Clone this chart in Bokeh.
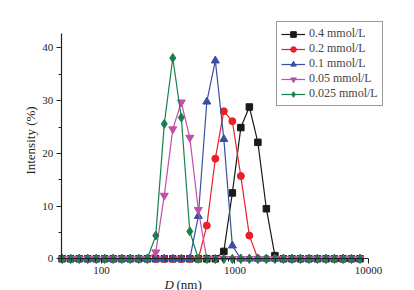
import math
from bokeh.plotting import figure
from bokeh.models import Range1d, Legend, LegendItem, FixedTicker, NumeralTickFormatter, Label
from bokeh.embed import file_html
from bokeh.resources import INLINE

# Malvern size bins (nm) from ~50 to ~8635
sizes = [50.75, 58.77, 68.06, 78.82, 91.28, 105.7, 122.4, 141.8, 164.2, 190.1,
         220.2, 255.0, 295.3, 342.0, 396.1, 458.7, 531.2, 615.1, 712.4, 825.0,
         955.4, 1106, 1281, 1484, 1718, 1990, 2305, 2669, 3091, 3580,
         4145, 4801, 5560, 6439, 7456, 8635]

def series(peaks):
    return [peaks.get(s, 0.0) for s in sizes]

c04 = series({825.0: 1.4, 955.4: 12.5, 1106: 24.9, 1281: 28.8, 1484: 22.1, 1718: 9.5, 1990: 0.6})
c02 = series({615.1: 6.3, 712.4: 19.0, 825.0: 28.0, 955.4: 26.1, 1106: 15.7, 1281: 4.4})
c01 = series({531.2: 8.1, 615.1: 29.8, 712.4: 37.6, 825.0: 22.7, 955.4: 2.5})
c005 = series({255.0: 1.25, 295.3: 12.0, 342.0: 24.6, 396.1: 29.7, 458.7: 23.0, 531.2: 9.3})
c0025 = series({255.0: 4.4, 295.3: 25.6, 342.0: 38.1, 396.1: 26.8, 458.7: 5.2})

labels = ["0.4 mmol/L", "0.2 mmol/L", "0.1 mmol/L", "0.05 mmol/L", "0.025 mmol/L"]
colors = ["#1a1a1a", "#e8202a", "#3a4fa0", "#c04fa8", "#18804a"]
markers = ["square", "circle", "triangle", "inverted_triangle", "diamond"]
data = [c04, c02, c01, c005, c0025]
yticks = [0, 10, 20, 30, 40]
yminor = [5, 15, 25, 35]
xticks = [100, 1000, 10000]

SERIF = "Liberation Serif"

# the frame fills the whole canvas; axes sit at fixed data locations
p = figure(width=414, height=290, x_axis_type="log", output_backend="svg",
           toolbar_location=None, x_range=Range1d(17.52, 22110), y_range=Range1d(-6.015, 49.01),
           min_border_left=0, min_border_right=0, min_border_top=0, min_border_bottom=0)
p.background_fill_color = "white"
p.border_fill_color = "white"
p.outline_line_color = None
p.grid.visible = False

items = []
for d, lab, col, mk in zip(data, labels, colors, markers):
    r1 = p.line(sizes, d, line_color=col, line_width=1.2)
    sz = {"square": 6.5, "circle": 7, "triangle": 8, "inverted_triangle": 8, "diamond": 9}[mk]
    r2 = p.scatter(sizes, d, marker=mk, size=sz, fill_color=col, line_color=col)
    items.append(LegendItem(label=lab, renderers=[r1, r2]))

leg = Legend(items=items, location=(276, 184), orientation="vertical",
             label_text_font=SERIF, label_text_font_size="12px",
             glyph_width=24, glyph_height=14, label_height=14, spacing=0,
             padding=4, margin=0, label_standoff=4,
             border_line_color="#333333", border_line_width=1,
             background_fill_alpha=1.0)
p.add_layout(leg, "center")

for ax in (p.xaxis[0], p.yaxis[0]):
    ax.axis_line_color = "#222222"
    ax.axis_line_width = 1.2
    ax.major_tick_line_color = "#222222"
    ax.minor_tick_line_color = "#222222"
    ax.major_tick_in = 0
    ax.minor_tick_in = 0
    ax.major_tick_out = 5
    ax.minor_tick_out = 3
    ax.major_label_text_font = SERIF
    ax.major_label_text_font_size = "11px"
    ax.major_label_text_color = "#222222"
    ax.major_label_standoff = 3
    ax.axis_label = None

p.xaxis.fixed_location = 0
p.yaxis.fixed_location = 50
p.xaxis.bounds = (50, 10000)
p.yaxis.bounds = (0, 42.75)
p.yaxis.ticker = FixedTicker(ticks=yticks, minor_ticks=yminor)
p.xaxis.ticker = FixedTicker(ticks=xticks,
                             minor_ticks=[m * 10 ** e for e in (1, 2, 3) for m in range(2, 10) if 50 <= m * 10 ** e <= 10000])
p.xaxis.formatter = NumeralTickFormatter(format="0")

p.add_layout(Label(x=30, y=150, x_units="screen", y_units="screen", text="Intensity (%)",
                   angle=math.pi / 2, text_align="center", text_baseline="middle",
                   text_font=SERIF, text_font_size="13px", text_color="#222222"))
p.add_layout(Label(x=164, y=6.5, x_units="screen", y_units="screen", text="D",
                   text_baseline="alphabetic", text_font=SERIF, text_font_size="13px",
                   text_font_style="italic", text_color="#222222"))
p.add_layout(Label(x=176, y=6.5, x_units="screen", y_units="screen", text="(nm)",
                   text_baseline="alphabetic", text_font=SERIF, text_font_size="13px",
                   text_color="#222222"))

open("out.html", "w").write(file_html(p, INLINE))
